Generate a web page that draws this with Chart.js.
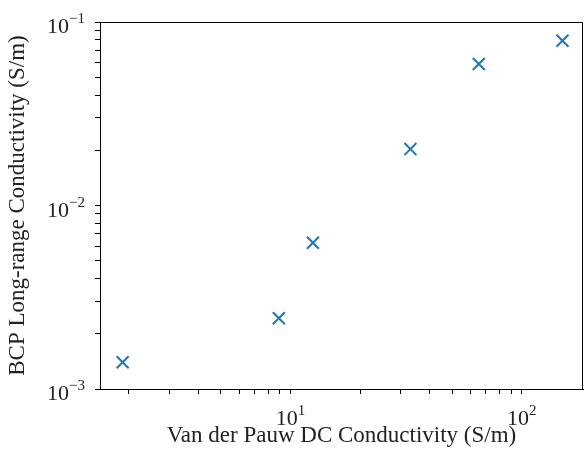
<!DOCTYPE html>
<html>
<head>
<meta charset="utf-8">
<script src="https://cdn.jsdelivr.net/npm/chart.js@4"></script>
<style>
  html, body { margin: 0; padding: 0; background: #fff; }
  canvas { display: block; }
</style>
</head>
<body>
<canvas id="chart" width="585" height="463"></canvas>
<script>
// ── DATA ──────────────────────────────────────────────────
const vdpConductivity = [1.88, 8.9, 12.5, 33.0, 65.2, 150];          // x, S/m
const bcpConductivity = [0.00140, 0.00243, 0.00627, 0.0203, 0.059, 0.079]; // y, S/m

const xMajorExp = [1, 2];        // 10^1, 10^2
const yMajorExp = [-3, -2, -1];  // 10^-3 .. 10^-1

const X_MIN = 1.5, X_MAX = 184;
const Y_MIN = 0.001, Y_MAX = 0.1;

const FONT = "'Liberation Serif', 'Times New Roman', serif";

// all log ticks (1..9 x 10^n) that fall inside the range
function logTicks(min, max) {
    const out = [];
    for (let e = Math.floor(Math.log10(min)); e <= Math.ceil(Math.log10(max)); e++) {
        for (let m = 1; m < 10; m++) {
            const v = m * Math.pow(10, e);
            if (v >= min * 0.9999 && v <= max * 1.0001) out.push({ value: v, major: m === 1 });
        }
    }
    return out;
}

function supLabel(exp) {
    return exp < 0 ? '\u2212' + Math.abs(exp) : String(exp);
}

// draws "10^n" labels and the top/right spines
const matplotlibLook = {
    id: 'matplotlibLook',
    afterDraw(chart) {
        const { ctx, chartArea: a, scales } = chart;
        ctx.save();
        ctx.strokeStyle = '#000';
        ctx.lineWidth = 1;
        ctx.beginPath();
        ctx.moveTo(a.left, a.top + 0.5);
        ctx.lineTo(a.right - 0.5, a.top + 0.5);
        ctx.lineTo(a.right - 0.5, a.bottom);
        ctx.stroke();

        ctx.fillStyle = '#222';
        ctx.textBaseline = 'alphabetic';
        ctx.textAlign = 'left';
        const base = '22px ' + FONT, sup = '15px ' + FONT;

        xMajorExp.forEach(e => {
            const px = scales.x.getPixelForValue(Math.pow(10, e));
            ctx.font = base; const w1 = ctx.measureText('10').width;
            ctx.font = sup;  const w2 = ctx.measureText(supLabel(e)).width;
            const x0 = px - (w1 + w2) / 2;
            ctx.font = base; ctx.fillText('10', x0, a.bottom + 36);
            ctx.font = sup;  ctx.fillText(supLabel(e), x0 + w1, a.bottom + 26);
        });

        yMajorExp.forEach(e => {
            const py = scales.y.getPixelForValue(Math.pow(10, e));
            ctx.font = base; const w1 = ctx.measureText('10').width;
            ctx.font = sup;  const w2 = ctx.measureText(supLabel(e)).width;
            const x0 = a.left - 15 - (w1 + w2);
            ctx.font = base; ctx.fillText('10', x0, py + 11);
            ctx.font = sup;  ctx.fillText(supLabel(e), x0 + w1, py + 1);
        });
        ctx.restore();
    }
};

const axisCommon = {
    type: 'logarithmic',
    border: { display: true, color: '#000', width: 1 },
    grid: { display: true, drawOnChartArea: false, drawTicks: true, tickLength: 5, tickColor: '#000', tickWidth: 1 },
    ticks: { display: false }
};

new Chart(document.getElementById('chart').getContext('2d'), {
    type: 'scatter',
    data: {
        datasets: [{
            data: vdpConductivity.map((x, i) => ({ x, y: bcpConductivity[i] })),
            pointStyle: 'crossRot',
            pointRadius: 8.5,
            pointHoverRadius: 8.5,
            borderWidth: 2,
            borderColor: '#1f77b4',
            backgroundColor: '#1f77b4'
        }]
    },
    options: {
        responsive: false,
        animation: false,
        layout: { autoPadding: false, padding: { left: 0, right: 2, top: 22, bottom: 0 } },
        plugins: { legend: { display: false }, tooltip: { enabled: false } },
        scales: {
            x: {
                ...axisCommon,
                min: X_MIN, max: X_MAX,
                afterBuildTicks: s => { s.ticks = logTicks(X_MIN, X_MAX); },
                afterFit: s => { s.height = 74; s.paddingLeft = 0; s.paddingRight = 0; },
                title: {
                    display: true,
                    text: 'Van der Pauw DC Conductivity (S/m)',
                    color: '#222',
                    font: { family: FONT, size: 23 },
                    padding: { top: 0, bottom: 13 }
                }
            },
            y: {
                ...axisCommon,
                min: Y_MIN, max: Y_MAX,
                afterBuildTicks: s => { s.ticks = logTicks(Y_MIN, Y_MAX); },
                afterFit: s => { s.width = 100; s.paddingTop = 0; s.paddingBottom = 0; },
                title: {
                    display: true,
                    text: 'BCP Long-range Conductivity (S/m)',
                    color: '#222',
                    font: { family: FONT, size: 23 },
                    padding: { top: 4, bottom: 0 }
                }
            }
        }
    },
    plugins: [matplotlibLook]
});
</script>
</body>
</html>
